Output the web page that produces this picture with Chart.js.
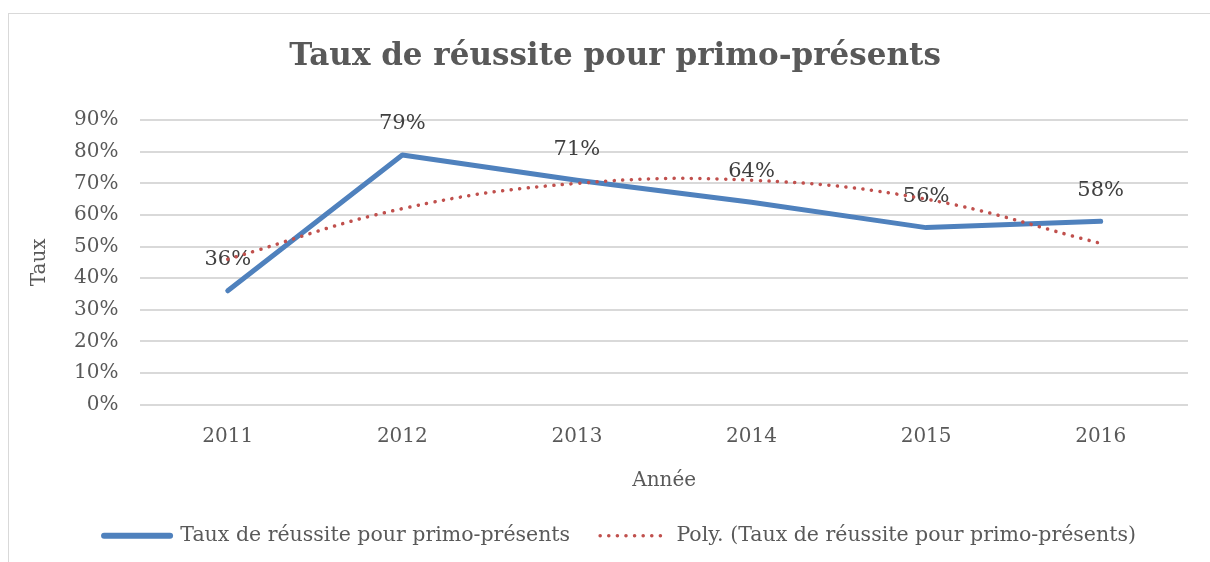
<!DOCTYPE html>
<html lang="fr">
<head>
<meta charset="utf-8">
<title>Taux de réussite pour primo-présents</title>
<script src="https://cdn.jsdelivr.net/npm/chart.js@4/dist/chart.umd.min.js"></script>
<style>
  html, body { margin: 0; padding: 0; background: #fff; }
  #wrap { position: relative; width: 1210px; height: 562px; overflow: hidden; }
  #frame { position: absolute; left: 8px; top: 13px; width: 1300px; height: 700px;
           border-left: 1px solid #d9d9d9; border-top: 1px solid #d9d9d9; }
  canvas { position: absolute; left: 0; top: 0; }
</style>
</head>
<body>
<div id="wrap">
  <div id="frame"></div>
  <canvas id="taux-chart" width="1210" height="562"></canvas>
</div>
<script>
// années et taux (%)
const annees = ['2011', '2012', '2013', '2014', '2015', '2016'];
const tauxReussite = [36, 79, 71, 64, 56, 58];
// courbe de tendance polynomiale (ordre 2), lue aux mêmes années
const tendancePoly = [46, 62, 70, 71, 65, 51];

const police = "'DejaVu Serif', 'Liberation Serif', serif";
const gris = '#595959';

// étiquettes de valeur au-dessus des points de la série principale
const etiquettesValeurs = {
    id: 'etiquettesValeurs',
    afterDatasetDraw(chart, args) {
        if (args.index !== 0) return;
        const ctx = chart.ctx;
        const meta = args.meta;
        ctx.save();
        ctx.font = '21px ' + police;
        ctx.fillStyle = '#404040';
        ctx.textAlign = 'center';
        ctx.textBaseline = 'middle';
        meta.data.forEach((pt, i) => {
            ctx.fillText(tauxReussite[i] + '%', pt.x, pt.y - 31);
        });
        ctx.restore();
    }
};

// décale un peu le titre et la légende vers la droite, comme dans le cadre d'origine
const decalageBlocs = {
    id: 'decalageBlocs',
    afterLayout(chart) {
        if (chart.titleBlock) {
            chart.titleBlock.left += 7;
            chart.titleBlock.right += 7;
        }
        if (chart.legend) {
            chart.legend.left += 12;
            chart.legend.right += 12;
        }
    }
};

const ctx = document.getElementById('taux-chart').getContext('2d');

window.tauxChart = new Chart(ctx, {
    type: 'line',
    data: {
        labels: annees,
        datasets: [
            {
                label: 'Taux de réussite pour primo-présents',
                data: tauxReussite,
                borderColor: '#4f81bd',
                backgroundColor: '#4f81bd',
                borderWidth: 5,
                borderCapStyle: 'round',
                borderJoinStyle: 'round',
                pointRadius: 0,
                tension: 0,
                order: 2
            },
            {
                label: 'Poly. (Taux de réussite pour primo-présents)',
                data: tendancePoly,
                borderColor: '#c0504d',
                backgroundColor: '#c0504d',
                borderWidth: 3.5,
                borderDash: [0.1, 8.5],
                borderCapStyle: 'round',
                pointRadius: 0,
                tension: 0.4,
                order: 1
            }
        ]
    },
    options: {
        responsive: false,
        animation: false,
        layout: {
            padding: { left: 28, right: 22, top: 0, bottom: 6 }
        },
        scales: {
            x: {
                offset: true,
                grid: { display: false, drawTicks: false },
                border: { display: false },
                ticks: {
                    color: gris,
                    font: { family: police, size: 20 },
                    padding: 20
                },
                title: {
                    display: true,
                    text: 'Année',
                    color: gris,
                    font: { family: police, size: 20 },
                    padding: { top: 0, bottom: 3 }
                }
            },
            y: {
                min: 0,
                max: 90,
                grid: { color: '#d9d9d9', lineWidth: 2, drawTicks: false },
                border: { display: false },
                ticks: {
                    stepSize: 10,
                    color: gris,
                    font: { family: police, size: 20 },
                    padding: 22,
                    callback: function (value) {
                        return value + '%';
                    }
                },
                title: {
                    display: true,
                    text: 'Taux',
                    color: gris,
                    font: { family: police, size: 20 },
                    padding: { top: 0, bottom: 0 }
                }
            }
        },
        plugins: {
            title: {
                display: true,
                text: 'Taux de réussite pour primo-présents',
                color: gris,
                font: { family: police, size: 31, weight: 'bold' },
                padding: { top: 38, bottom: 45 }
            },
            legend: {
                position: 'bottom',
                labels: {
                    color: gris,
                    font: { family: police, size: 20.5 },
                    boxWidth: 66,
                    boxHeight: 6,
                    padding: 30,
                    usePointStyle: true,
                    pointStyleWidth: 66,
                    // échantillons de trait dessinés comme les séries
                    generateLabels: function (chart) {
                        return chart.data.datasets.map((ds, i) => ({
                            text: ds.label,
                            fillStyle: ds.borderColor,
                            strokeStyle: ds.borderColor,
                            fontColor: gris,
                            lineWidth: ds.borderWidth + (i === 0 ? 1 : 0),
                            lineDash: ds.borderDash || [],
                            lineCap: 'round',
                            pointStyle: 'line',
                            hidden: false,
                            datasetIndex: i
                        }));
                    }
                }
            },
            tooltip: { enabled: false }
        }
    },
    plugins: [etiquettesValeurs, decalageBlocs]
});
</script>
</body>
</html>
